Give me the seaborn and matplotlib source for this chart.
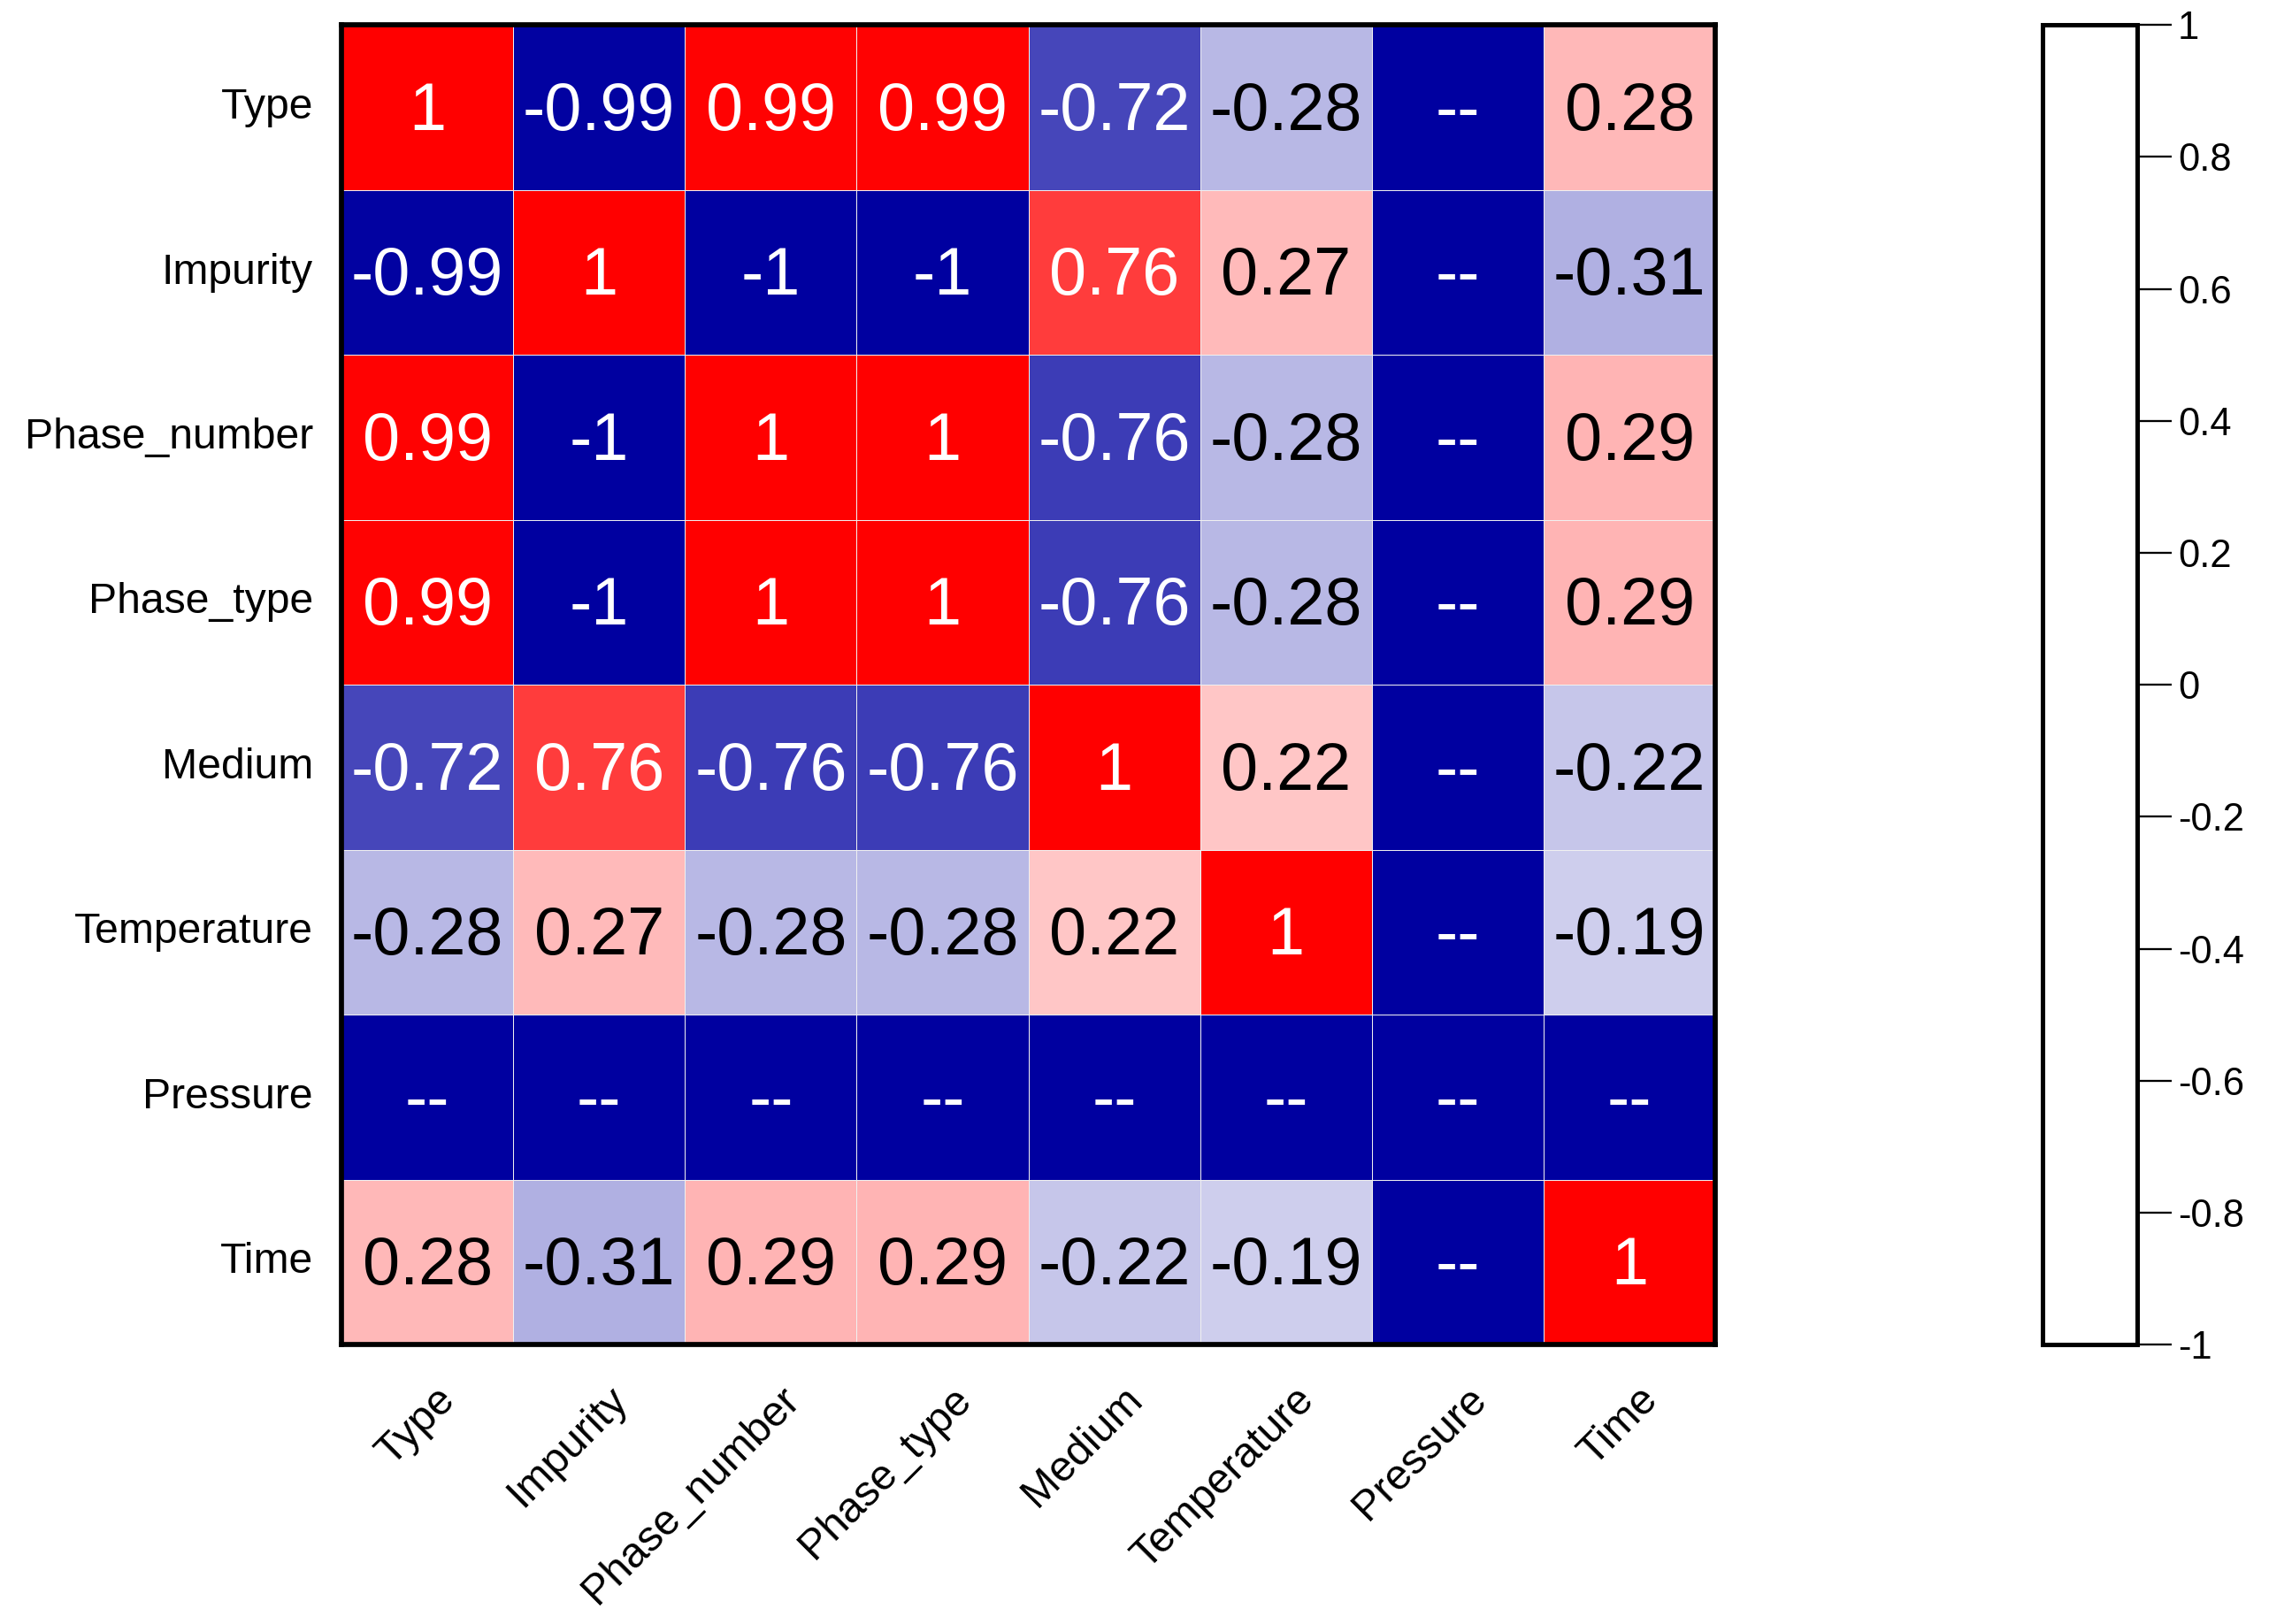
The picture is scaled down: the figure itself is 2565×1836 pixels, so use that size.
import numpy as np
import pandas as pd
import seaborn as sns
import matplotlib.pyplot as plt
import matplotlib.transforms as mtransforms
from matplotlib.colors import LinearSegmentedColormap

labels = ['Type', 'Impurity', 'Phase_number', 'Phase_type', 'Medium', 'Temperature', 'Pressure', 'Time']
nan = np.nan
row_type = [1, -0.99, 0.99, 0.99, -0.72, -0.28, nan, 0.28]
row_impurity = [-0.99, 1, -1, -1, 0.76, 0.27, nan, -0.31]
row_phase_number = [0.99, -1, 1, 1, -0.76, -0.28, nan, 0.29]
row_phase_type = [0.99, -1, 1, 1, -0.76, -0.28, nan, 0.29]
row_medium = [-0.72, 0.76, -0.76, -0.76, 1, 0.22, nan, -0.22]
row_temperature = [-0.28, 0.27, -0.28, -0.28, 0.22, 1, nan, -0.19]
row_pressure = [nan, nan, nan, nan, nan, nan, nan, nan]
row_time = [0.28, -0.31, 0.29, 0.29, -0.22, -0.19, nan, 1]
cbar_ticks = [-1, -0.8, -0.6, -0.4, -0.2, 0, 0.2, 0.4, 0.6, 0.8, 1]

corr = pd.DataFrame([row_type, row_impurity, row_phase_number, row_phase_type,
                     row_medium, row_temperature, row_pressure, row_time],
                    index=labels, columns=labels)

# constant column gives NaN correlation -> shown as "--" in dark blue
annot_labels = corr.apply(lambda col: col.map(lambda v: '--' if pd.isna(v) else '%g' % v))
color_vals = corr.fillna(-1)

sns.set_style('white', {'text.color': 'black', 'xtick.color': 'black', 'ytick.color': 'black',
                        'axes.labelcolor': 'black'})
plt.rcParams['font.family'] = ['Liberation Sans', 'DejaVu Sans']

cmap = LinearSegmentedColormap.from_list('bwr_dark', ['#0000A0', '#FFFFFF', '#FF0000'])

fig = plt.figure(figsize=(2565 / 165, 1836 / 165), dpi=165)
ax = fig.add_axes([0.1505, 0.172, 0.6055, 0.8126])
cax = fig.add_axes([0.9, 0.172, 0.042, 0.8126])

sns.heatmap(color_vals, ax=ax, cbar_ax=cax, cmap=cmap, vmin=-1, vmax=1,
            annot=annot_labels.values, fmt='', annot_kws={'size': 33},
            linewidths=0.3, linecolor='#f0f0f0')

# seaborn uses dark grey for text on light cells, reference is plain black
for t in ax.texts:
    if t.get_color() != 'w':
        t.set_color('black')
    x, y = t.get_position()
    t.set_position((x, y + 0.03))

for s in ax.spines.values():
    s.set_visible(True)
    s.set_linewidth(2.5)
    s.set_color('black')

ax.tick_params(axis='both', length=0, labelsize=21)
ax.tick_params(axis='y', pad=14)
ax.tick_params(axis='x', pad=17)
ax.set_yticklabels(labels, rotation=0)
ax.set_xticklabels(labels, rotation=45, ha='right', rotation_mode='anchor')
shift = mtransforms.ScaledTranslation(4 / 72, 0, fig.dpi_scale_trans)
for lab in ax.get_xticklabels():
    lab.set_transform(lab.get_transform() + shift)

# colorbar: frame and ticks only, no colour fill
cbar = ax.collections[0].colorbar
cbar.solids.set_visible(False)
cbar.outline.set_linewidth(2.2)
cbar.outline.set_edgecolor('black')
cbar.set_ticks(cbar_ticks)
cbar.set_ticklabels(['%g' % v for v in cbar_ticks])
cax.tick_params(length=17, width=1.0, labelsize=19, pad=3, color='black')

plt.savefig('out.png', dpi=165)
